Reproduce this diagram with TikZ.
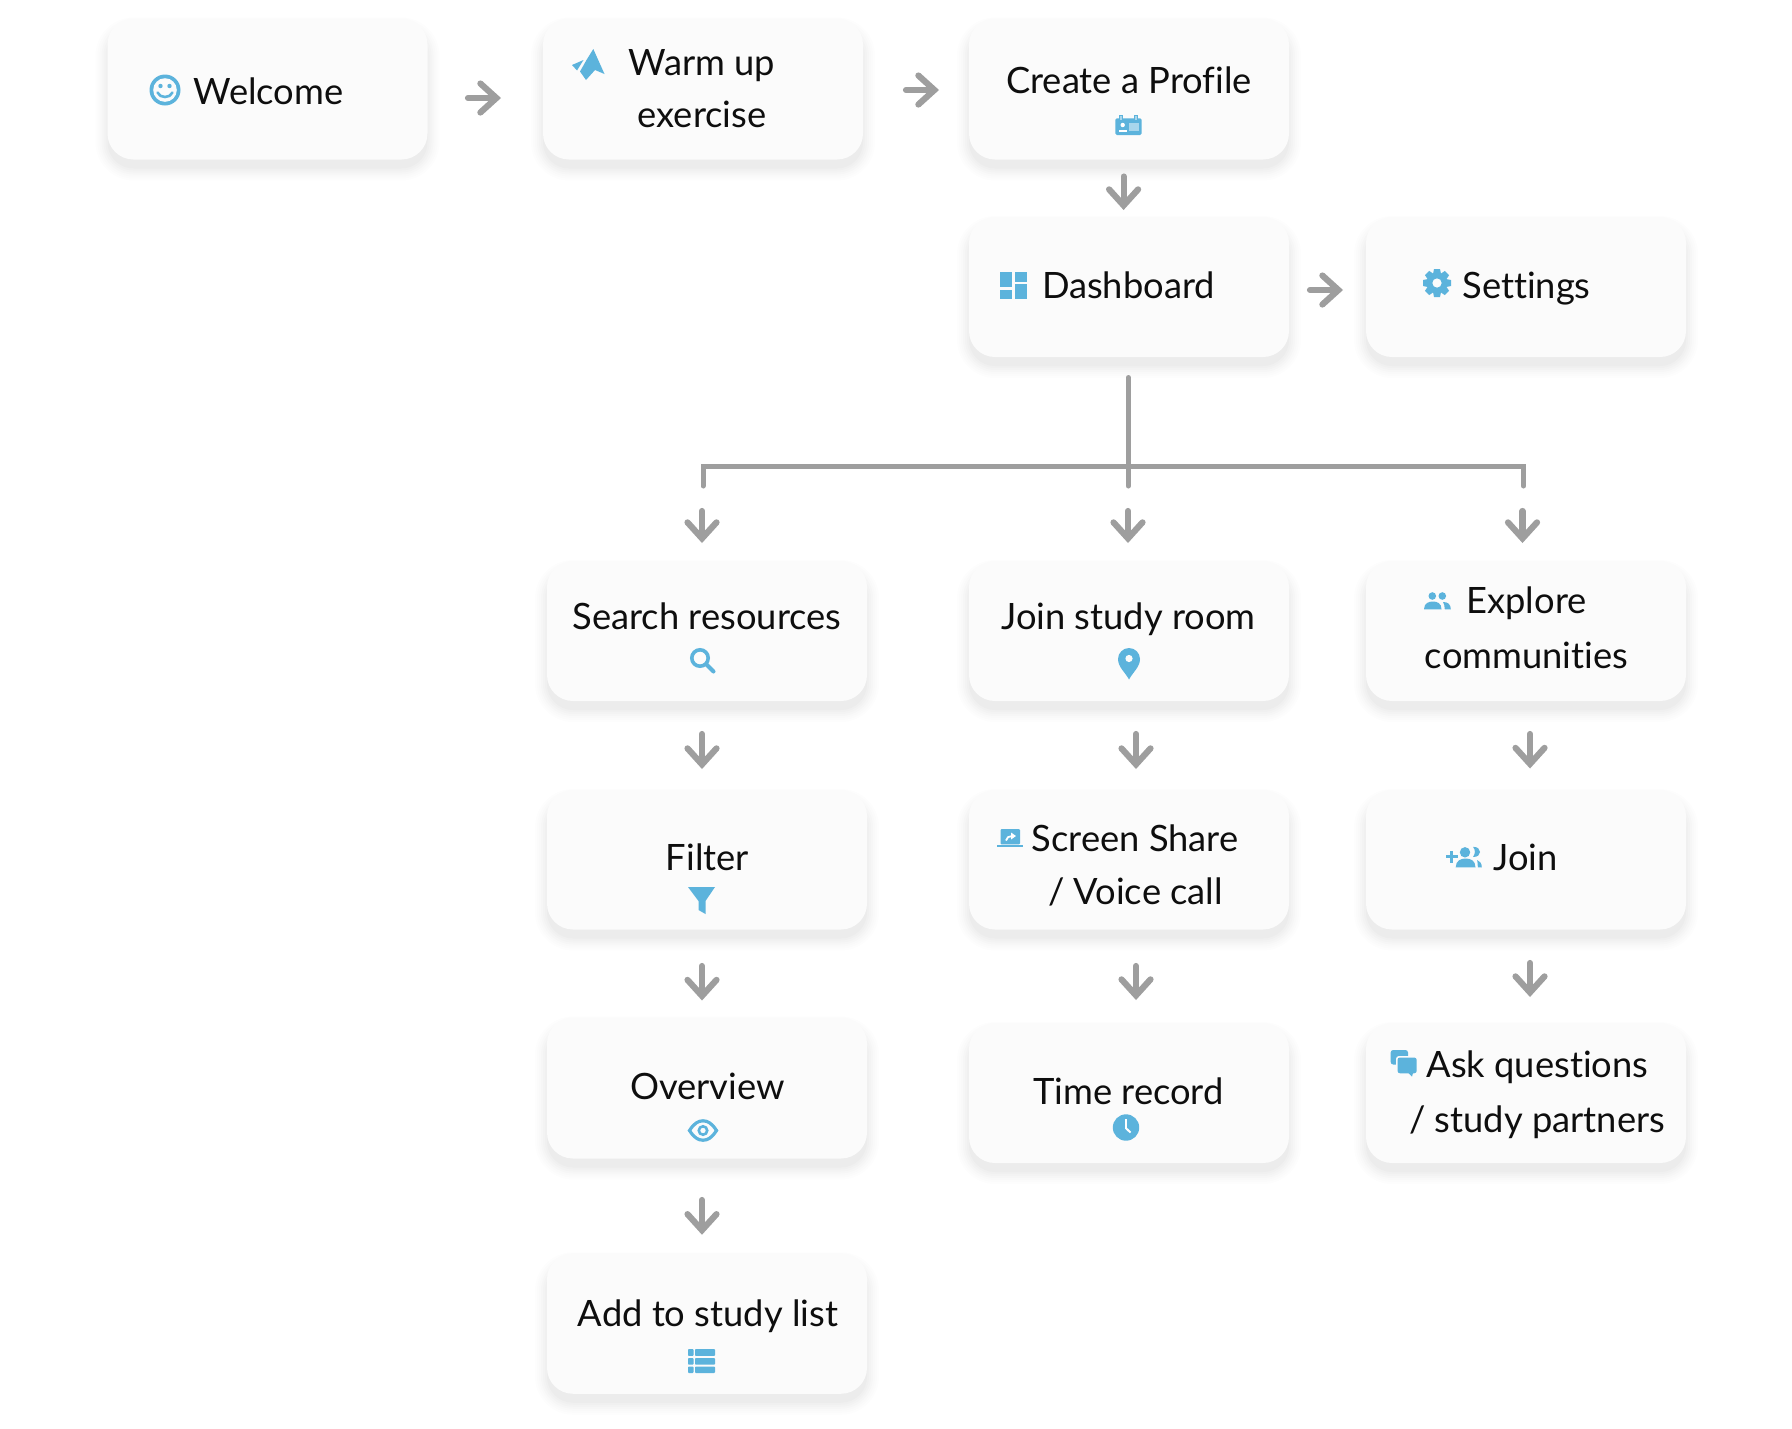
\documentclass[tikz,border=0pt]{standalone}
\usepackage{fontspec}
\setmainfont{Lato}[Ligatures=NoCommon]
\usetikzlibrary{arrows.meta}
\definecolor{iconblue}{HTML}{5CB3DC}
\definecolor{iconlight}{HTML}{A8D6EC}
\definecolor{cardfill}{HTML}{FBFBFB}
\definecolor{flowgray}{HTML}{9E9E9E}
\definecolor{inkblack}{HTML}{0E0E0E}
\tikzset{
  cardbox/.style={fill=cardfill,rounded corners=26pt,inner sep=0pt,outer sep=0pt},
  lbl/.style={anchor=base,inner sep=0pt,outer sep=0pt,text=inkblack,font=\fontsize{36.3}{36.3}\selectfont},
  flow/.style={draw=flowgray,line width=6.2pt,line cap=round,shorten <=1pt,-{Straight Barb[length=16pt,width=29pt,line cap=round]}},
  treeline/.style={draw=flowgray,line width=5pt,line cap=round},
  ic/.style={fill=iconblue,draw=none},
  ko/.style={fill=cardfill,draw=none},
  icline/.style={draw=iconblue,fill=none}
}
\newcommand{\card}[5]{%
  \foreach \s/\o in {12/.007,10/.008,8/.009,6/.010,4/.011,2/.013,0/.016}{%
    \fill[black,opacity=\o,rounded corners={26pt+\s pt}]
      ({#2-#4/2-\s},{#3-#5/2-\s+11}) rectangle ({#2+#4/2+\s},{#3+#5/2+\s+9});
  }
  \node[cardbox,minimum width=#4pt,minimum height=#5pt] (#1) at (#2,#3) {};
}
\begin{document}
\begin{tikzpicture}[x=1pt,y=-1pt]
\useasboundingbox (0,0) rectangle (1792,1428);
\fill[white] (0,0) rectangle (1792,1428);
% cards
\card{welcome}{267.5}{89}{320}{141}
\card{warm}{703}{89}{320}{141}
\card{create}{1129}{89}{320}{141}
\card{dash}{1129}{287}{320}{140}
\card{settings}{1526}{287}{320}{140}
\card{search}{707}{631}{320}{140}
\card{room}{1129}{631}{320}{140}
\card{explore}{1526}{631}{320}{140}
\card{filter}{707}{859.75}{320}{139.5}
\card{screen}{1129}{859.75}{320}{139.5}
\card{joinc}{1526}{859.75}{320}{139.5}
\card{overview}{707}{1088}{320}{141}
\card{timerec}{1129}{1093}{320}{140}
\card{ask}{1526}{1093}{320}{140}
\card{addlist}{707}{1323.5}{320}{140.5}
% labels
\begin{scope}[yshift=-2.2pt]
\node[lbl] (t1) at (268.5,102) {Welcome};
\node[lbl] (t2a) at (702,73) {Warm up};
\node[lbl] (t2b) at (702,125) {exercise};
\node[lbl] (t3) at (1129,91) {Create a Profile};
\node[lbl] (t4) at (1128.5,296) {Dashboard};
\node[lbl] (t5) at (1526.5,296) {Settings};
\node[lbl] (t6) at (707,627) {Search resources};
\node[lbl] (t7) at (1128.5,627) {Join study room};
\node[lbl] (t8a) at (1526.5,611) {Explore};
\node[lbl] (t8b) at (1526.5,666) {communities};
\node[lbl] (t9) at (707.5,868) {Filter};
\node[lbl] (t10a) at (1135,849) {Screen Share};
\node[lbl] (t10b) at (1135.5,902) {/ Voice call};
\node[lbl] (t11) at (1525.5,868) {Join};
\node[lbl] (t12a) at (1537.5,1075.5) {Ask questions};
\node[lbl] (t12b) at (1537,1130) {/ study partners};
\node[lbl] (t13) at (707.5,1097) {Overview};
\node[lbl] (t14) at (1128.5,1102) {Time record};
\node[lbl] (t15) at (708,1324) {Add to study list};
\end{scope}
% connectors
\draw[flow] ([shift={(39.5,9)}]welcome.east) -- ([shift={(-42,9)}]warm.west);
\draw[flow] ([shift={(42,1)}]warm.east) -- ([shift={(-30,1)}]create.west);
\draw[flow] ([shift={(-5.4,16)}]create.south) -- ([shift={(-5.4,-7)}]dash.north);
\draw[flow] ([shift={(20,3)}]dash.east) -- ([shift={(-23,3)}]settings.west);
\draw[treeline] ([shift={(-.6,20.5)}]dash.south) -- ([shift={(-.6,-75)}]room.north);
\draw[treeline,line join=miter] ([shift={(-4,-75)}]search.north) -- ([shift={(-4,-95)}]search.north) -- ([shift={(-2.5,-95)}]explore.north) -- ([shift={(-2.5,-75)}]explore.north);
\draw[flow] ([shift={(-5,-51)}]search.north) -- ([shift={(-5,-18)}]search.north);
\draw[flow] ([shift={(-1,-51)}]room.north) -- ([shift={(-1,-18)}]room.north);
\draw[flow] ([shift={(-3.5,-51)}]explore.north) -- ([shift={(-3.5,-18)}]explore.north);
\draw[flow] ([shift={(-5,32)}]search.south) -- ([shift={(-5,-21)}]filter.north);
\draw[flow] ([shift={(7,32)}]room.south) -- ([shift={(7,-21)}]screen.north);
\draw[flow] ([shift={(4,32)}]explore.south) -- ([shift={(4,-21.5)}]joinc.north);
\draw[flow] ([shift={(-5,35.5)}]filter.south) -- ([shift={(-5,-17)}]overview.north);
\draw[flow] ([shift={(7,35.5)}]screen.south) -- ([shift={(7,-23)}]timerec.north);
\draw[flow] ([shift={(4,32.5)}]joinc.south) -- ([shift={(4,-26)}]ask.north);
\draw[flow] ([shift={(-5,40.5)}]overview.south) -- ([shift={(-5,-18.5)}]addlist.north);
% icons
% smile
\fill[ic] (165,90) circle (15.5);
\fill[ko] (165,90) circle (11.8);
\fill[ic] (160.5,86) circle (2.2) (169.5,86) circle (2.2);
\draw[iconblue,line width=2.6pt,line cap=round] (157.5,92.5) .. controls (160,98.5) and (170,98.5) .. (172.5,92.5);
% plane
\fill[ic] (593.3,49) -- (604.5,74) -- (595,70) -- (586,80) -- (580,71.5) -- (586.5,60) -- cycle;
\fill[ic] (572,65) -- (583.5,60) -- (577,70.5) -- cycle;
% id card
\fill[ic,rounded corners=1.5pt] (1115.3,118.3) rectangle (1141.7,135);
\draw[iconblue,line width=1pt,fill=iconlight] (1119.5,115) rectangle (1122,120);
\draw[iconblue,line width=1pt,fill=iconlight] (1134.5,115) rectangle (1137,120);
\fill[white] (1122.7,125) circle (2.2);
\fill[white] (1119.3,131.8) -- (1119.3,129.5) -- (1126.5,129.5) -- (1126.5,131.8) -- cycle;
\fill[iconlight] (1129.3,123) rectangle (1138.5,131);
% dashboard
\fill[ic] (1000,271.7) rectangle (1012,287.3);
\fill[ic] (1000,290) rectangle (1012,299);
\fill[ic] (1015,271.7) rectangle (1027,281.7);
\fill[ic] (1015,284.3) rectangle (1027,299);
% gear
\fill[ic] (1437,283) circle (9.6);
\foreach \a in {0,45,...,315}{\fill[ic,rotate around={\a:(1437,283)}] (1434,269) -- (1440,269) -- (1441.4,276) -- (1432.6,276) -- cycle;}
\fill[ko] (1437,283) circle (4.6);
% magnifier
\draw[iconblue,line width=3.6pt] (700,658) circle (8.2);
\draw[iconblue,line width=4pt,line cap=round] (706.5,664.5) -- (713.5,671.5);
% pin
\fill[ic] (1129,679.5) .. controls (1125,672) and (1118,667) .. (1118,659) .. controls (1118,653) and (1123,648) .. (1129,648) .. controls (1135,648) and (1140,653) .. (1140,659) .. controls (1140,667) and (1133,672) .. cycle;
\fill[ko] (1129,658.5) circle (3.6);
% filter
\fill[ic] (688,887) -- (715,887) -- (705.5,901) -- (705.5,914) -- (698.5,910) -- (698.5,901) -- cycle;
% eye
\draw[iconblue,line width=3.2pt] (689.5,1130.5) .. controls (694,1123.5) and (698,1120.8) .. (703,1120.8) .. controls (708,1120.8) and (712,1123.5) .. (716.5,1130.5) .. controls (712,1137.5) and (708,1140.2) .. (703,1140.2) .. controls (698,1140.2) and (694,1137.5) .. cycle;
\draw[iconblue,line width=2.6pt] (703,1130.5) circle (4.2);
% clock
\fill[ic] (1126,1127.5) circle (13.2);
\fill[white] (1125.3,1119) rectangle (1127.3,1129);
\draw[white,line width=2pt] (1126.3,1128.5) -- (1130.5,1132.5);
% list
\foreach \a/\b in {1349/1355.8,1358/1364.6,1366.5/1373}{%
  \fill[ic,rounded corners=.8pt] (688,\a) rectangle (693.5,\b);
  \fill[ic,rounded corners=.8pt] (695,\a) rectangle (715,\b);
}
% laptop
\fill[ic,rounded corners=1pt] (1000.5,829) rectangle (1020,844.3);
\fill[ic] (997.3,844.6) rectangle (1023.3,846.8);
\draw[white,line width=1.8pt] (1006,840.5) .. controls (1006.5,837.5) and (1009,836) .. (1012,836);
\fill[white] (1011,832.5) -- (1016,836) -- (1011,839.5) -- cycle;
% people
\fill[ic] (1432.3,596) circle (3.8) (1442.3,596) circle (3.8);
\fill[ic] (1424,609.3) .. controls (1424,603) and (1429,601.5) .. (1432.8,601.5) .. controls (1437,601.5) and (1441.5,603) .. (1441.5,609.3) -- cycle;
\fill[ic] (1443,602) .. controls (1447.5,602) and (1450.8,604) .. (1450.8,609.3) -- (1444.8,609.3) .. controls (1444.8,606) and (1444,604) .. (1443,602) -- cycle;
% add people
\fill[ic] (1445.5,855.2) rectangle (1457.5,858.2);
\fill[ic] (1450,850.7) rectangle (1453,862.7);
\fill[ic] (1465,852.3) circle (5.2);
\fill[ic] (1455.7,867.3) .. controls (1455.7,860.5) and (1461,858.5) .. (1465.7,858.5) .. controls (1470.5,858.5) and (1475.5,860.5) .. (1475.5,867.3) -- cycle;
\fill[ic] (1473,846.8) .. controls (1478,846.8) and (1480,849.5) .. (1480,852) .. controls (1480,855) and (1477.5,857) .. (1473,857) .. controls (1475.5,853.5) and (1475.5,850) .. (1473,846.8) -- cycle;
\fill[ic] (1477.2,860) .. controls (1480,861) and (1481.8,863.5) .. (1481.8,867.3) -- (1477.8,867.3) .. controls (1477.8,865) and (1477.6,862) .. (1477.2,860) -- cycle;
% chat
\fill[ic,rounded corners=2.5pt] (1390.7,1050) rectangle (1408,1064.5);
\fill[cardfill,rounded corners=3pt] (1396,1056) rectangle (1418,1075);
\fill[ic,rounded corners=2.5pt] (1397.5,1057.5) rectangle (1416.7,1073.3);
\fill[ic] (1408.5,1073) -- (1412,1076.7) -- (1413,1073) -- cycle;
\end{tikzpicture}
\end{document}
